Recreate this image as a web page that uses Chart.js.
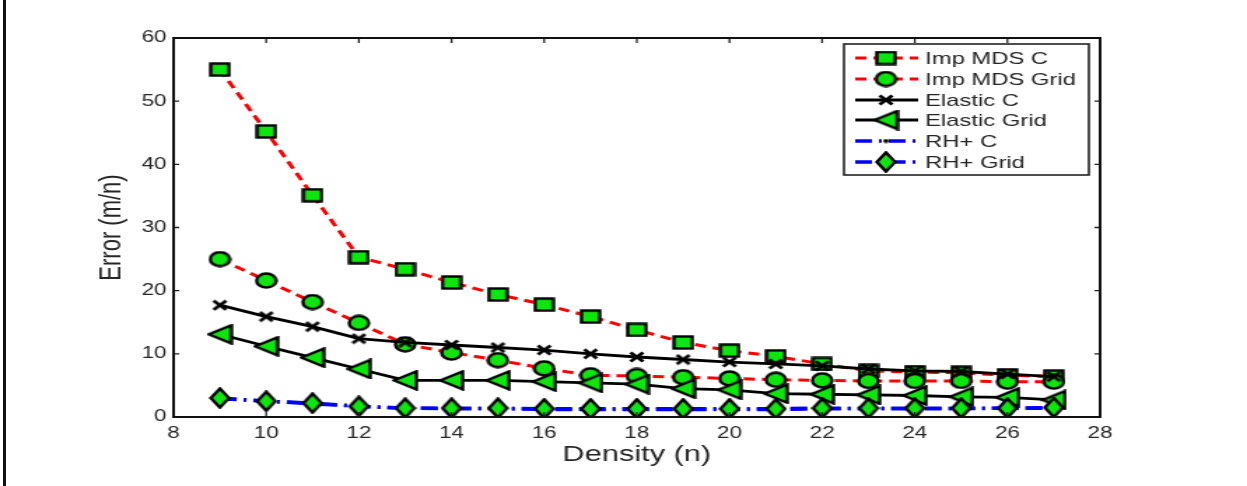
<!DOCTYPE html>
<html>
<head>
<meta charset="utf-8">
<script src="https://cdn.jsdelivr.net/npm/chart.js@4.4.1/dist/chart.umd.min.js"></script>
<style>
  html, body { margin: 0; padding: 0; background: #fff; overflow: hidden; }
  body { width: 1247px; height: 486px; position: relative; }
  #borde { position: absolute; left: 3px; top: 0; width: 3px; height: 486px; background: #111; }
  /* the original figure is stretched sideways, so draw narrow and scale */
  #caja { position: absolute; left: 0; top: 0; width: 891px; height: 486px;
          transform: scaleX(1.3996); transform-origin: 0 0; }
</style>
</head>
<body>
<div id="borde"></div>
<div id="caja"><canvas id="grafico"></canvas></div>
<script>
/* ------------ Datos ------------ */
const density = [9, 10, 11, 12, 13, 14, 15, 16, 17, 18, 19, 20, 21, 22, 23, 24, 25, 26, 27];

const impMdsC    = [55, 45.2, 35.1, 25.3, 23.4, 21.3, 19.4, 17.8, 15.9, 13.8, 11.8, 10.5, 9.6, 8.4, 7.3, 7.1, 7.0, 6.6, 6.4];
const impMdsGrid = [25.0, 21.6, 18.2, 14.9, 11.5, 10.2, 9.0, 7.7, 6.6, 6.5, 6.3, 6.1, 5.9, 5.8, 5.7, 5.7, 5.7, 5.6, 5.6];
const elasticC   = [17.7, 15.9, 14.3, 12.4, 11.8, 11.4, 11.0, 10.6, 10.0, 9.5, 9.1, 8.7, 8.4, 8.1, 7.6, 7.3, 7.2, 6.8, 6.4];
const elasticGrid = [13.1, 11.2, 9.4, 7.6, 5.8, 5.8, 5.8, 5.6, 5.4, 5.2, 4.5, 4.3, 3.7, 3.6, 3.5, 3.4, 3.2, 3.1, 2.7];
const rhC        = [2.9, 2.5, 2.1, 1.7, 1.4, 1.3, 1.3, 1.2, 1.2, 1.2, 1.2, 1.2, 1.2, 1.3, 1.3, 1.3, 1.3, 1.4, 1.4];
const rhGrid     = [3.0, 2.5, 2.2, 1.7, 1.4, 1.4, 1.4, 1.3, 1.3, 1.3, 1.3, 1.3, 1.3, 1.4, 1.4, 1.4, 1.4, 1.4, 1.5];

const xTicks = [8, 10, 12, 14, 16, 18, 20, 22, 24, 26, 28];
const yTicks = [0, 10, 20, 30, 40, 50, 60];

const VERDE = "#0de60d";
const TEXTO = "#262626";

/* ------------ Marcadores ------------ */
function marcador(w, h, dibujar) {
  const c = document.createElement("canvas");
  c.width = w;
  c.height = h;
  const g = c.getContext("2d");
  g.fillStyle = VERDE;
  g.strokeStyle = "#000";
  g.lineWidth = 2.4;
  g.lineJoin = "miter";
  dibujar(g);
  return c;
}

const mCuadrado = marcador(16, 15, g => {
  g.fillRect(1.5, 1.5, 13, 12);
  g.strokeRect(1.5, 1.5, 13, 12);
});
const mCirculo = marcador(17, 17, g => {
  g.beginPath();
  g.arc(8.5, 8.5, 7, 0, Math.PI * 2);
  g.fill();
  g.stroke();
});
const mTriangulo = marcador(19, 21, g => {
  g.beginPath();
  g.moveTo(1.5, 10.5);
  g.lineTo(17.5, 1.5);
  g.lineTo(17.5, 19.5);
  g.closePath();
  g.fill();
  g.stroke();
});
const mRombo = marcador(16, 22, g => {
  g.beginPath();
  g.moveTo(8, 1.5);
  g.lineTo(14.5, 11);
  g.lineTo(8, 20.5);
  g.lineTo(1.5, 11);
  g.closePath();
  g.fill();
  g.stroke();
});
const mCruz = marcador(12, 12, g => {
  g.lineWidth = 2.8;
  g.beginPath();
  g.moveTo(1.5, 1.5); g.lineTo(10.5, 10.5);
  g.moveTo(10.5, 1.5); g.lineTo(1.5, 10.5);
  g.stroke();
});
const mPunto = marcador(5, 5, g => {
  g.fillStyle = "#000";
  g.beginPath();
  g.arc(2.5, 2.5, 2, 0, Math.PI * 2);
  g.fill();
});

function puntos(valores) {
  return density.map((d, i) => ({ x: d, y: valores[i] }));
}

const series = [
  { label: "Imp MDS C",    data: impMdsC,    color: "#ff0000", dash: [8, 5], width: 3,   img: mCuadrado, order: 6 },
  { label: "Imp MDS Grid", data: impMdsGrid, color: "#ff0000", dash: [8, 5], width: 3,   img: mCirculo,  order: 5 },
  { label: "Elastic C",    data: elasticC,   color: "#000000", dash: [],     width: 2.8, img: mCruz,     order: 4 },
  { label: "Elastic Grid", data: elasticGrid, color: "#000000", dash: [],    width: 2.8, img: mTriangulo, order: 3 },
  { label: "RH+ C",        data: rhC,        color: "#0000ff", dash: [12, 5, 2, 5], width: 3.5, img: mPunto, order: 2 },
  { label: "RH+ Grid",     data: rhGrid,     color: "#0000ff", dash: [12, 5, 2, 5], width: 3.5, img: mRombo, order: 1 }
];

/* ------------ Caja, ticks y leyenda ------------ */
const estiloMatlab = {
  id: "estiloMatlab",
  afterDraw(chart) {
    const { ctx, chartArea: a, scales } = chart;
    ctx.save();

    // ticks hacia dentro
    ctx.strokeStyle = "#222";
    ctx.lineWidth = 1.3;
    ctx.beginPath();
    xTicks.forEach(v => {
      const px = scales.x.getPixelForValue(v);
      ctx.moveTo(px, a.bottom); ctx.lineTo(px, a.bottom - 5);
      ctx.moveTo(px, a.top);    ctx.lineTo(px, a.top + 5);
    });
    yTicks.forEach(v => {
      const py = scales.y.getPixelForValue(v);
      ctx.moveTo(a.left, py);  ctx.lineTo(a.left + 4, py);
      ctx.moveTo(a.right, py); ctx.lineTo(a.right - 4, py);
    });
    ctx.stroke();

    // caja de ejes
    ctx.strokeStyle = "#111";
    ctx.lineWidth = 2;
    ctx.strokeRect(a.left, a.top, a.right - a.left, a.bottom - a.top);

    // leyenda
    const lx = 603, ly = 44, lw = 175, lh = 131;
    ctx.fillStyle = "#fff";
    ctx.fillRect(lx, ly, lw, lh);
    ctx.strokeStyle = "#222";
    ctx.lineWidth = 1.6;
    ctx.strokeRect(lx, ly, lw, lh);

    const filas = [58, 79, 100, 120, 141, 162];
    ctx.font = "17px 'Liberation Sans', Arial, sans-serif";
    ctx.textBaseline = "middle";
    series.forEach((s, i) => {
      const y = filas[i];
      ctx.strokeStyle = s.color;
      ctx.lineWidth = s.width;
      ctx.setLineDash(s.dash);
      ctx.beginPath();
      ctx.moveTo(611, y);
      ctx.lineTo(656, y);
      ctx.stroke();
      ctx.setLineDash([]);
      ctx.drawImage(s.img, 633 - s.img.width / 2, y - s.img.height / 2);
      ctx.fillStyle = TEXTO;
      ctx.fillText(s.label, 661, y + 1);
    });

    ctx.restore();
  }
};

/* ------------ Gráfico ------------ */
function generarGrafico() {
  const ctx = document.getElementById("grafico");

  new Chart(ctx, {
    type: "line",
    data: {
      datasets: series.map(s => ({
        label: s.label,
        data: puntos(s.data),
        borderColor: s.color,
        borderWidth: s.width,
        borderDash: s.dash,
        pointStyle: s.img,
        pointRadius: 8,
        pointHoverRadius: 8,
        tension: 0,
        fill: false,
        order: s.order
      }))
    },
    options: {
      responsive: true,
      maintainAspectRatio: false,
      animation: false,
      events: [],
      layout: { padding: { top: 38, right: 105, left: 0, bottom: 0 } },
      plugins: { legend: { display: false }, tooltip: { enabled: false } },
      scales: {
        x: {
          type: "linear",
          min: 8,
          max: 28,
          grid: { display: false, drawTicks: false },
          border: { display: false },
          afterBuildTicks: s => { s.ticks = xTicks.map(v => ({ value: v })); },
          afterFit: s => { s.height = 69; },
          ticks: { color: TEXTO, font: { size: 16 }, padding: 7, maxRotation: 0 },
          title: {
            display: true,
            text: "Density (n)",
            color: TEXTO,
            font: { size: 22 },
            padding: { top: 0, bottom: 18 }
          }
        },
        y: {
          min: 0,
          max: 60,
          grid: { display: false, drawTicks: false },
          border: { display: false },
          afterBuildTicks: s => { s.ticks = yTicks.map(v => ({ value: v })); },
          afterFit: s => { s.width = 124; },
          ticks: { color: TEXTO, font: { size: 16 }, padding: 5 },
          title: {
            display: true,
            text: "Error (m/n)",
            color: TEXTO,
            font: { size: 22 },
            padding: { top: 67, bottom: 0 }
          }
        }
      }
    },
    plugins: [estiloMatlab]
  });
}

Chart.defaults.font.family = "'Liberation Sans', Arial, sans-serif";
document.addEventListener("DOMContentLoaded", generarGrafico);
</script>
</body>
</html>
